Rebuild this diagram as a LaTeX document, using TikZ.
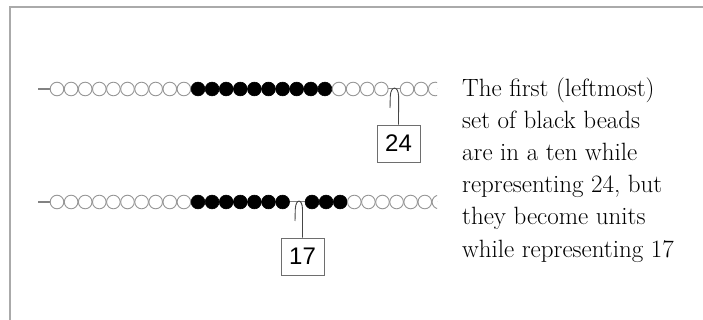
\documentclass[tikz,border=0pt]{standalone}
\usepackage{fontspec}
\newfontfamily\numfont{Liberation Sans}
\definecolor{framec}{RGB}{170,170,170}
\definecolor{beadedge}{RGB}{150,150,150}
\definecolor{stringc}{RGB}{130,130,130}
\definecolor{ptrc}{RGB}{70,70,70}
\definecolor{boxc}{RGB}{110,110,110}
\tikzset{
  wbead/.style={circle, draw=beadedge, fill=white, line width=0.9pt, minimum size=13.6pt, inner sep=0pt},
  bbead/.style={circle, draw=black, fill=black, line width=0.6pt, minimum size=13.8pt, inner sep=0pt},
  numbox/.style={draw=boxc, line width=0.9pt, fill=white, minimum width=43pt, minimum height=37pt, inner sep=0pt, font=\numfont\fontsize{24}{24}\selectfont},
  txt/.style={anchor=base west, inner sep=0pt, font=\fontsize{25}{30}\selectfont},
  ptr/.style={draw=ptrc, line width=0.9pt},
  strng/.style={draw=stringc, line width=1pt}
}
\begin{document}
\begin{tikzpicture}[x=1pt,y=-1pt]
\useasboundingbox (0,0) rectangle (703,320);
\fill[white] (0,0) rectangle (703,320);
\draw[framec, line width=1.3pt] (10,320) -- (10,7) -- (703,7);
% ---------- row 1 (24) ----------
\begin{scope}
\clip (0,0) rectangle (437,320);
\coordinate (s1a) at (38,89);
\coordinate (s1b) at (440,89);
\draw[strng] (s1a) -- (s1b);
\draw[stringc, line width=1.6pt] (s1a) -- (50,89);
\foreach \i in {0,...,9} \node[wbead] (ra\i) at ({57+14.1*\i},89) {};
\foreach \i in {10,...,19} \node[bbead] (ra\i) at ({57+14.1*\i},89) {};
\foreach \i in {20,...,23} \node[wbead] (ra\i) at ({57+14.1*\i},89) {};
\foreach \j in {0,...,3} \node[wbead] (rb\j) at ({407+14.1*\j},89) {};
\end{scope}
\node[numbox] (b24) at (398.5,143.5) {24};
\coordinate (p1l) at (390,108);
\draw[ptr] (p1l) -- (390.3,96) .. controls (390.8,85.5) and (398.2,85.5) .. (398.6,96) -- (b24.north);
% ---------- row 2 (17) ----------
\begin{scope}
\clip (0,0) rectangle (437,320);
\coordinate (s2a) at (38,202);
\coordinate (s2b) at (440,202);
\draw[strng] (s2a) -- (s2b);
\draw[stringc, line width=1.6pt] (s2a) -- (50,202);
\foreach \i in {0,...,9} \node[wbead] (rc\i) at ({57+14.1*\i},202) {};
\foreach \i in {10,...,16} \node[bbead] (rc\i) at ({57+14.1*\i},202) {};
\foreach \j in {0,...,2} \node[bbead] (rd\j) at ({312+14.1*\j},202) {};
\foreach \j in {3,...,9} \node[wbead] (rd\j) at ({312+14.1*\j},202) {};
\end{scope}
\node[numbox] (b17) at (302.5,256.5) {17};
\coordinate (p2l) at (295,221);
\draw[ptr] (p2l) -- (295.3,209) .. controls (295.8,198.5) and (302.2,198.5) .. (302.5,209) -- (b17.north);
% ---------- text ----------
\node[txt] (t1) at (462,97) {The first (leftmost)};
\node[txt] (t2) at (462,129) {set of black beads};
\node[txt] (t3) at (462,161) {are in a ten while};
\node[txt] (t4) at (462,193) {representing 24, but};
\node[txt] (t5) at (462,225) {they become units};
\node[txt] (t6) at (462,257) {while representing 17};
\end{tikzpicture}
\end{document}
